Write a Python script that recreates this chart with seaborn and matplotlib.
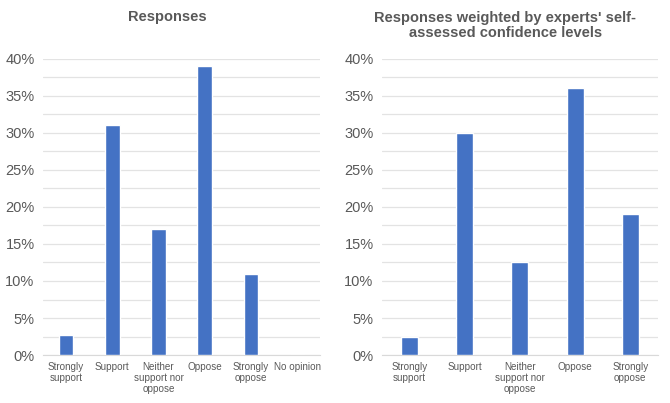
import matplotlib
matplotlib.use("Agg")
import matplotlib.pyplot as plt
import seaborn as sns
import pandas as pd
from matplotlib.ticker import FuncFormatter, MultipleLocator

# Dados
categorias_esq = ['Strongly\nsupport', 'Support', 'Neither\nsupport nor\noppose',
                  'Oppose', 'Strongly\noppose', 'No opinion']
valores_esq = [2.7, 31, 17, 39, 11, 0]

categorias_dir = ['Strongly\nsupport', 'Support', 'Neither\nsupport nor\noppose',
                  'Oppose', 'Strongly\noppose']
valores_dir = [2.5, 30, 12.5, 36, 19]

titulo_esq = 'Responses'
titulo_dir = "Responses weighted by experts' self-\nassessed confidence levels"

sns.set_style('white')
plt.rcParams['font.family'] = ['Liberation Sans', 'DejaVu Sans']

cor_barra = '#4472C4'
cor_texto = '#595959'

fig = plt.figure(figsize=(6.7, 4.03), dpi=100)
ax1 = fig.add_axes([0.064, 0.119, 0.414, 0.735])
ax2 = fig.add_axes([0.570, 0.119, 0.412, 0.735])


def desenha(ax, categorias, valores, largura):
    df = pd.DataFrame({'cat': categorias, 'val': valores})
    sns.barplot(data=df, x='cat', y='val', ax=ax, color=cor_barra,
                width=largura, saturation=1, zorder=3)
    ax.set_ylim(0, 40)
    ax.set_xlim(-0.5, len(categorias) - 0.5)
    ax.yaxis.set_major_locator(MultipleLocator(5))
    ax.yaxis.set_minor_locator(MultipleLocator(2.5))
    ax.yaxis.set_major_formatter(FuncFormatter(lambda v, p: f'{v:.0f}%'))
    ax.grid(axis='y', which='both', color='#E3E3E3', linewidth=0.9, zorder=0)
    ax.set_axisbelow(True)
    for s in ['top', 'right', 'left']:
        ax.spines[s].set_visible(False)
    ax.spines['bottom'].set_color('#D9D9D9')
    ax.set_xlabel(None)
    ax.set_ylabel(None)
    ax.tick_params(axis='y', which='both', length=0, labelsize=10.5,
                   labelcolor=cor_texto, pad=6)
    ax.tick_params(axis='x', length=0, labelsize=7.1, labelcolor=cor_texto, pad=5)
    for lbl in ax.get_xticklabels():
        lbl.set_verticalalignment('top')
        lbl.set_multialignment('center')
        lbl.set_linespacing(1.1)


desenha(ax1, categorias_esq, valores_esq, 0.32)
desenha(ax2, categorias_dir, valores_dir, 0.31)

# Títulos posicionados na figura
fig.text(0.249, 0.957, titulo_esq, ha='center', va='center', fontsize=10.5,
         fontweight='bold', color=cor_texto)
fig.text(0.754, 0.937, titulo_dir, ha='center', va='center', fontsize=10.5,
         fontweight='bold', color=cor_texto, linespacing=1.05,
         multialignment='center')

plt.savefig('out.png', dpi=100)
plt.close()
